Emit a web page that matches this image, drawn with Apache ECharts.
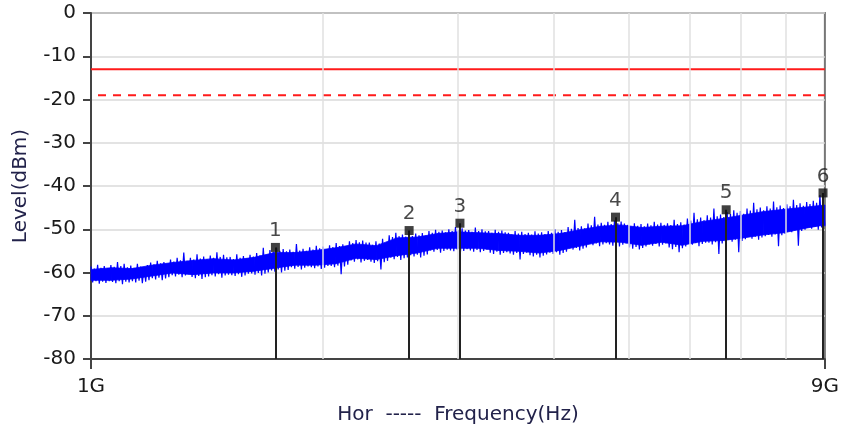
<!DOCTYPE html>
<html>
<head>
<meta charset="utf-8">
<script src="https://cdn.jsdelivr.net/npm/echarts@6/dist/echarts.min.js"></script>
<style>
html,body{margin:0;padding:0;background:#fff;}
#chart{width:842px;height:437px;}
</style>
</head>
<body>
<div id="chart"></div>
<script>
// ---- data ----
const freqStartHz = 1e9;
const freqStopHz = 9e9;
const xTickValues = [1e9, 9e9];
const xTickLabels = ['1G', '9G'];
const gridFreqs = [2e9, 3e9, 4e9, 5e9, 6e9, 7e9, 8e9];
const yMin = -80, yMax = 0, yStep = 10;
const limitSolid = -13;
const limitDashed = -19;
const markerNames = ['1', '2', '3', '4', '5', '6'];
const markerFreqs = [1.737e9, 2.592e9, 3.018e9, 4.808e9, 6.697e9, 8.95e9];
const markerLevels = [-54.2, -50.3, -48.6, -47.2, -45.5, -41.6];
// measured trace peaks/dips (dBm), sweep points evenly spaced on the log frequency scale
const traceLevels = [
  -58.6,-62.3,-59.1,-62.0,-58.2,-62.6,-58.9,-62.1,-58.5,-62.4,-59.0,-62.0,
  -58.3,-62.2,-58.7,-62.5,-57.6,-62.0,-58.5,-62.7,-58.0,-62.1,-58.8,-62.3,
  -58.4,-62.0,-58.9,-62.3,-58.0,-61.9,-58.6,-62.5,-58.8,-62.1,-58.3,-61.8,
  -57.7,-61.3,-58.1,-61.6,-57.3,-61.2,-57.9,-61.8,-57.6,-61.4,-58.0,-61.1,
  -57.0,-60.6,-57.5,-60.9,-56.6,-60.5,-57.2,-61.1,-55.4,-60.7,-57.3,-60.4,
  -56.6,-61.0,-57.0,-61.3,-55.8,-60.8,-56.8,-61.5,-56.3,-61.1,-56.9,-60.9,
  -56.1,-60.6,-56.6,-60.9,-55.3,-60.4,-56.4,-61.2,-55.9,-60.7,-56.5,-60.5,
  -56.4,-60.6,-56.9,-60.8,-55.8,-60.4,-56.6,-61.0,-56.2,-60.7,-56.8,-60.3,
  -55.9,-60.2,-56.3,-60.5,-55.5,-60.1,-56.0,-60.7,-54.3,-60.3,-56.2,-60.0,
  -54.8,-59.5,-55.2,-59.8,-54.3,-59.3,-55.0,-60.0,-54.6,-59.6,-55.1,-59.4,
  -54.7,-58.8,-55.2,-59.1,-53.4,-58.7,-54.9,-59.3,-54.5,-58.9,-55.0,-58.6,
  -54.2,-58.8,-54.7,-59.0,-53.8,-58.6,-54.4,-59.2,-54.0,-58.9,-54.6,-58.5,
  -53.7,-58.5,-54.1,-58.8,-53.2,-58.4,-53.9,-60.4,-53.5,-58.6,-54.0,-58.2,
  -52.8,-57.2,-53.2,-57.5,-52.5,-57.0,-53.0,-57.7,-52.6,-57.3,-53.1,-57.1,
  -53.1,-57.5,-53.6,-57.8,-52.8,-57.4,-53.3,-59.3,-52.2,-57.6,-53.5,-57.3,
  -51.4,-56.6,-51.8,-56.9,-50.8,-56.4,-51.6,-57.1,-51.2,-56.7,-51.7,-56.5,
  -51.2,-56.0,-51.6,-56.3,-51.0,-55.9,-51.4,-56.5,-50.9,-56.1,-51.5,-55.8,
  -50.4,-54.9,-50.8,-55.2,-50.1,-54.8,-50.6,-55.4,-50.3,-55.0,-50.7,-54.7,
  -50.0,-54.9,-50.4,-55.1,-49.5,-54.7,-50.2,-55.3,-49.8,-55.0,-50.3,-54.6,
  -50.2,-54.9,-50.6,-55.2,-49.6,-54.8,-50.4,-55.3,-50.0,-55.0,-50.5,-54.7,
  -50.4,-55.4,-50.8,-55.7,-50.1,-55.2,-50.6,-55.9,-50.3,-55.5,-50.7,-55.3,
  -50.8,-55.6,-51.2,-55.9,-50.4,-55.5,-51.0,-57.0,-50.6,-55.7,-51.1,-55.4,
  -50.8,-56.0,-51.2,-56.3,-50.5,-55.9,-51.0,-56.5,-50.7,-56.1,-51.1,-55.8,
  -50.4,-55.4,-50.8,-55.7,-50.0,-55.3,-50.6,-55.9,-50.2,-55.5,-50.7,-55.2,
  -49.5,-54.4,-49.9,-54.7,-47.8,-54.3,-49.7,-54.9,-49.3,-54.5,-49.8,-54.2,
  -48.7,-53.4,-49.1,-53.7,-47.1,-53.3,-48.9,-53.9,-48.5,-53.5,-49.0,-53.2,
  -48.3,-53.5,-48.8,-53.8,-48.0,-53.4,-48.6,-54.0,-48.2,-53.6,-48.7,-53.3,
  -49.0,-54.2,-49.4,-54.5,-48.6,-54.1,-49.2,-54.7,-48.8,-54.3,-49.3,-54.0,
  -48.7,-53.5,-49.1,-53.8,-48.3,-53.4,-48.9,-54.0,-48.5,-53.6,-49.0,-53.3,
  -48.6,-54.2,-49.0,-54.6,-47.8,-54.1,-48.8,-55.3,-48.4,-54.4,-48.9,-54.0,
  -47.5,-53.3,-48.0,-53.6,-46.2,-53.2,-47.7,-53.9,-47.3,-53.4,-47.9,-53.1,
  -46.8,-53.1,-47.3,-53.5,-45.2,-53.0,-47.0,-55.7,-46.6,-53.3,-47.2,-52.9,
  -46.0,-52.5,-46.5,-52.9,-45.6,-52.4,-46.2,-55.3,-45.8,-52.7,-46.4,-52.3,
  -45.2,-51.8,-45.7,-52.2,-43.9,-51.7,-45.4,-52.4,-45.0,-51.9,-45.6,-51.6,
  -44.7,-51.3,-45.2,-51.7,-43.6,-51.2,-44.9,-53.9,-44.5,-51.4,-45.1,-51.1,
  -44.2,-50.3,-44.7,-50.7,-43.2,-50.2,-44.4,-53.8,-44.0,-50.4,-44.6,-50.1,
  -43.7,-49.5,-44.2,-49.9,-43.4,-49.4,-43.9,-50.1,-42.1,-49.6,-44.1,-49.3
];
// dense core of the noise band (dBm), evenly spaced on the log frequency scale
const coreTop = [
  -59.3,-58.9,-59.1,-58.3,-57.7,-57.2,-56.8,-57.1,-56.5,-55.4,
  -55.4,-54.9,-54.3,-53.4,-53.8,-52.0,-51.8,-51.0,-50.6,-50.8,
  -51.0,-51.4,-51.4,-51.0,-50.1,-49.3,-49.0,-49.6,-49.3,-49.2,
  -48.2,-47.5,-46.7,-45.9,-45.4,-44.9,-44.4
];
const coreBottom = [
  -61.8,-61.8,-61.5,-60.8,-60.1,-60.5,-60.1,-60.1,-59.7,-59.0,
  -58.3,-58.3,-58.0,-56.7,-57.0,-56.1,-55.5,-54.4,-54.4,-54.4,
  -54.9,-55.1,-55.5,-54.9,-53.9,-52.9,-53.0,-53.7,-53.0,-53.7,
  -52.8,-52.6,-52.0,-51.3,-50.8,-49.8,-49.0
];

// ---- build series data ----
const logSpaced = (n) => Array.from({ length: n }, (_, i) =>
  freqStartHz * Math.pow(freqStopHz / freqStartHz, i / (n - 1)));
const sweepFreqs = logSpaced(traceLevels.length);
const traceData = traceLevels.map((v, i) => [sweepFreqs[i], v]);
const coreFreqs = logSpaced(coreTop.length);
const coreQuads = [];
for (let i = 0; i < coreTop.length - 1; i++) {
  coreQuads.push([coreFreqs[i], coreTop[i], coreBottom[i], coreFreqs[i + 1], coreTop[i + 1], coreBottom[i + 1]]);
}
const markerData = markerFreqs.map((f, i) => ({ name: markerNames[i], value: [f, markerLevels[i]] }));
const markerLines = markerFreqs.map((f, i) => [{ coord: [f, markerLevels[i]] }, { coord: [f, yMin] }]);

const FONT = 'DejaVu Sans';
const TRACE_BLUE = '#0000ff';
const chart = echarts.init(document.getElementById('chart'), null, { renderer: 'canvas' });
chart.setOption({
  animation: false,
  backgroundColor: '#ffffff',
  textStyle: { fontFamily: FONT },
  grid: {
    left: 91, right: 15, top: 13, bottom: 78,
    show: true, borderColor: '#777', borderWidth: 2, backgroundColor: 'transparent'
  },
  xAxis: {
    type: 'log', logBase: 10, min: freqStartHz, max: freqStopHz,
    name: 'Hor  -----  Frequency(Hz)', nameLocation: 'middle', nameGap: 46,
    nameTextStyle: { fontFamily: FONT, fontSize: 20, color: '#22224a' },
    axisLine: { show: true, onZero: false, lineStyle: { color: '#444', width: 2 } },
    axisTick: { show: true, customValues: xTickValues, length: 10, lineStyle: { color: '#444', width: 2 } },
    axisLabel: {
      show: true, customValues: xTickValues, margin: 18,
      fontFamily: FONT, fontSize: 20, color: '#1a1a1a',
      formatter: (v) => { const k = xTickValues.findIndex(t => Math.abs(t - v) / t < 1e-6); return k >= 0 ? xTickLabels[k] : ''; }
    },
    splitLine: { show: false },
    minorTick: { show: false }, minorSplitLine: { show: false }
  },
  yAxis: {
    type: 'value', min: yMin, max: yMax, interval: yStep,
    name: 'Level(dBm)', nameLocation: 'middle', nameGap: 60, nameRotate: 90,
    nameTextStyle: { fontFamily: FONT, fontSize: 20, color: '#22224a' },
    axisLine: { show: true, lineStyle: { color: '#444', width: 2 } },
    axisTick: { show: true, length: 8, lineStyle: { color: '#444', width: 2 } },
    axisLabel: { margin: 15, fontFamily: FONT, fontSize: 20, color: '#1a1a1a' },
    splitLine: { show: true, lineStyle: { color: '#dadada', width: 1.5 } }
  },
  series: [
    {
      name: 'vgrid', type: 'line', data: [], silent: true, z: 1,
      markLine: {
        silent: true, symbol: 'none', animation: false,
        label: { show: false },
        lineStyle: { color: '#e0e0e0', width: 1.5, type: 'solid' },
        data: gridFreqs.map(f => ({ xAxis: f }))
      }
    },
    {
      name: 'limit', type: 'line', z: 2, showSymbol: false, silent: true,
      data: [[freqStartHz, limitSolid], [freqStopHz, limitSolid]],
      lineStyle: { color: '#ff1a1a', width: 2 }
    },
    {
      name: 'limit2', type: 'line', z: 2, showSymbol: false, silent: true,
      data: [[freqStartHz, limitDashed], [freqStopHz, limitDashed]],
      lineStyle: { color: '#ff1a1a', width: 2, type: [8, 7], dashOffset: 8 }
    },
    {
      name: 'core', type: 'custom', z: 3, silent: true,
      data: coreQuads,
      encode: { x: [0, 3], y: [1, 2, 4, 5] },
      renderItem: (params, api) => {
        const p1 = api.coord([api.value(0), api.value(1)]);
        const p2 = api.coord([api.value(3), api.value(4)]);
        const p3 = api.coord([api.value(3), api.value(5)]);
        const p4 = api.coord([api.value(0), api.value(2)]);
        return {
          type: 'polygon',
          shape: { points: [p1, p2, p3, p4] },
          style: { fill: TRACE_BLUE, stroke: TRACE_BLUE, lineWidth: 0.8 }
        };
      }
    },
    {
      name: 'trace', type: 'line', z: 4, showSymbol: false, silent: true,
      sampling: 'none',
      data: traceData,
      lineStyle: { color: TRACE_BLUE, width: 1.2 }
    },
    {
      name: 'markers', type: 'scatter', z: 5, silent: true,
      symbol: 'rect', symbolSize: 9,
      itemStyle: { color: '#111' },
      data: markerData,
      label: {
        show: true, position: 'top', distance: 2,
        formatter: (p) => p.name,
        fontFamily: FONT, fontSize: 20, color: '#1a1a1a'
      },
      markLine: {
        silent: true, symbol: 'none', animation: false,
        label: { show: false },
        lineStyle: { color: '#222', width: 2, type: 'solid' },
        data: markerLines
      }
    }
  ]
});
</script>
</body>
</html>
